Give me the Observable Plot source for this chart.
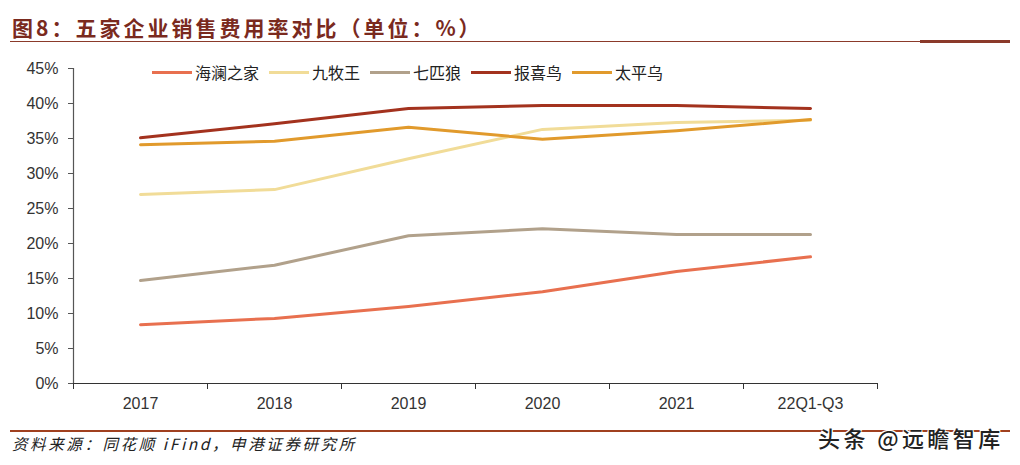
<!DOCTYPE html>
<html><head><meta charset="utf-8">
<script src="https://cdn.jsdelivr.net/npm/d3@7"></script>
<script src="https://cdn.jsdelivr.net/npm/@observablehq/plot@0.6"></script>
<style>
body{margin:0;background:#fff;}
#wrap{position:relative;width:1020px;height:465px;overflow:hidden;font-family:"Noto Sans CJK SC",sans-serif;}
#title{position:absolute;left:12px;top:12px;font-size:21px;font-weight:bold;color:#7a2a1e;letter-spacing:3px;white-space:nowrap;line-height:30px;}
#tline{position:absolute;left:10px;top:41px;width:1000px;height:1px;background:#8b3a2a;}
#tline2{position:absolute;left:920px;top:40px;width:90px;height:3px;background:#8b3a2a;}
#chart{position:absolute;left:0;top:50px;}
#legend{position:absolute;left:152px;top:60px;display:flex;gap:10px;font-size:16px;color:#222;font-family:"Noto Sans CJK SC",sans-serif;}
#legend .it{display:flex;align-items:center;gap:3px;}
#legend .sw{width:40px;height:3px;}
#fline{position:absolute;left:10px;top:430px;width:1000px;height:2px;background:#a0401f;}
#src{position:absolute;left:12px;top:432px;font-size:15.5px;font-style:italic;color:#222;white-space:nowrap;line-height:22px;letter-spacing:2.6px;}
#wm{position:absolute;left:818px;top:422px;font-size:22px;font-weight:500;letter-spacing:3.4px;color:#222;white-space:nowrap;line-height:30px;text-shadow:1px 1px 0 #fff,-1px -1px 0 #fff,1px -1px 0 #fff,-1px 1px 0 #fff;}
</style></head>
<body>
<div id="wrap">
  <div id="title">图8：五家企业销售费用率对比（单位：%）</div>
  <div id="tline"></div><div id="tline2"></div>
  <div id="chart"></div>
  <div id="legend"></div>
  <div id="fline"></div>
  <div id="src">资料来源：同花顺 iFind，申港证券研究所</div>
  <div id="wm">头条 @远瞻智库</div>
</div>
<script>
const categories = ["2017","2018","2019","2020","2021","22Q1-Q3"];
const seriesNames = ["海澜之家","九牧王","七匹狼","报喜鸟","太平乌"];
const seriesColors = ["#e8704f","#f1dc98","#b1a18b","#a3321e","#e19a2c"];
const hailan = [8.4, 9.3, 11.0, 13.1, 16.0, 18.1];
const jiumu = [27.0, 27.7, 32.1, 36.3, 37.3, 37.6];
const qipi = [14.7, 16.9, 21.1, 22.1, 21.3, 21.3];
const baoxi = [35.1, 37.1, 39.3, 39.7, 39.7, 39.3];
const taiping = [34.1, 34.6, 36.6, 34.9, 36.1, 37.7];
const yTicks = [0,5,10,15,20,25,30,35,40,45];

const allSeries = [hailan, jiumu, qipi, baoxi, taiping];
const data = [];
allSeries.forEach((vals, s) => vals.forEach((v, i) => data.push({series: seriesNames[s], i, v})));
const idx = categories.map((c, i) => i);
const bounds = d3.range(categories.length + 1).map(i => i - 0.5);

const chart = Plot.plot({
  width: 1020, height: 370,
  marginLeft: 73, marginRight: 143, marginTop: 18, marginBottom: 37,
  x: {domain: [-0.5, categories.length - 0.5]},
  y: {domain: [0, 45]},
  color: {domain: seriesNames, range: seriesColors},
  style: {fontFamily: "'Liberation Sans', Arial, sans-serif", fontSize: "16px", color: "#333"},
  marks: [
    Plot.axisY(yTicks, {tickSize: 5, tickPadding: 10, tickFormat: d => d + "%", label: null, fontSize: 16, fill: "#333", stroke: "#555"}),
    Plot.axisX(bounds, {tickSize: 6, tickFormat: () => "", label: null, stroke: "#333"}),
    Plot.axisX(idx, {tickSize: 0, tickPadding: 14, tickFormat: i => categories[i], label: null, fontSize: 16, fill: "#333"}),
    Plot.ruleY([0], {stroke: "#333", strokeWidth: 1.2}),
    Plot.ruleX([-0.5], {y1: 0, y2: 45, stroke: "#555", strokeWidth: 1.2}),
    Plot.line(data, {x: "i", y: "v", z: "series", stroke: "series", strokeWidth: 3, curve: "linear"})
  ]
});
document.getElementById("chart").appendChild(chart);

const lg = document.getElementById("legend");
seriesNames.forEach((n, k) => {
  const it = document.createElement("div"); it.className = "it";
  const sw = document.createElement("div"); sw.className = "sw"; sw.style.background = seriesColors[k];
  const t = document.createElement("span"); t.textContent = n;
  it.appendChild(sw); it.appendChild(t); lg.appendChild(it);
});
</script>
</body></html>
